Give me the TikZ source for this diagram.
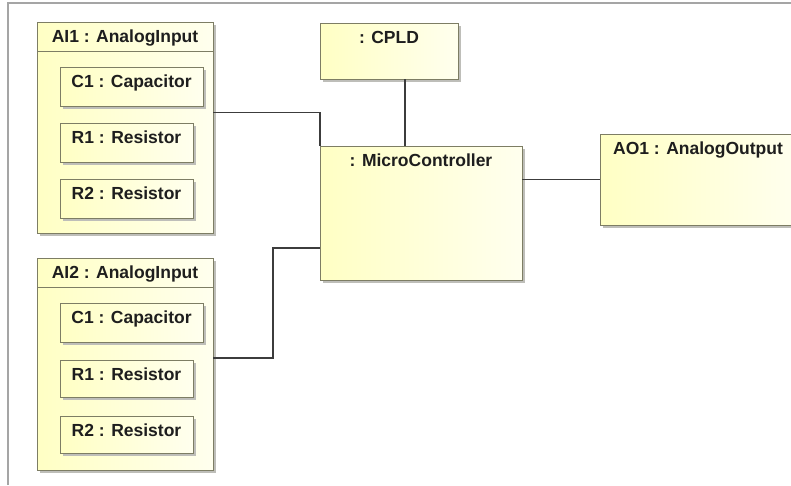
\documentclass[tikz,border=0pt]{standalone}
\usepackage{fontspec}
\setmainfont{Liberation Sans}
\usetikzlibrary{calc,shadows}
\definecolor{umlcolor0001}{RGB}{125,125,100}
\definecolor{umlcolor0002}{RGB}{255,255,196}
\definecolor{umlcolor0003}{RGB}{255,255,238}
\definecolor{umlcolor0004}{RGB}{165,165,165}
\definecolor{umlcolor0005}{RGB}{190,190,185}
\definecolor{umlcolor0006}{RGB}{30,30,30}
\definecolor{umlcolor0007}{RGB}{60,60,60}
\begin{document}
\begin{tikzpicture}[yscale=-1
,framestyle/.style={color=umlcolor0004,line width=1.5pt}
,boxstyle/.style={draw=umlcolor0001,line width=1pt,left color=umlcolor0002,right color=umlcolor0003,drop shadow={shadow xshift=3pt,shadow yshift=-3pt,fill=umlcolor0005,opacity=1},inner sep=0,outer sep=0,anchor=north west}
,textstyle/.style={anchor=north,inner xsep=0,inner ysep=8pt,font=\fontsize{17.5}{20}\selectfont\bfseries,text=umlcolor0006}
,sepstyle/.style={color=umlcolor0001,line width=1pt}
,linestyle/.style={color=umlcolor0007,line width=1.2pt}
]
\clip (0pt,0pt) rectangle (791pt,485pt);
\fill[white] (0pt,0pt) rectangle (791pt,485pt);
\draw[framestyle] (8pt,485pt) -- (8pt,3pt) -- (791pt,3pt);
% first analog input
\node[boxstyle,minimum width=176pt,minimum height=211pt] (ai1) at (37pt,22pt) {};
\node[textstyle] (ai1t) at (ai1.north) {AI1 : AnalogInput};
\path (ai1.north west) ++(0,29pt) coordinate (ai1s);
\draw[sepstyle] (ai1s) -- (ai1s -| ai1.east);
\node[boxstyle,minimum width=143pt,minimum height=39pt] (ai1c1) at (60pt,67pt) {};
\node[textstyle] (ai1c1t) at (ai1c1.north) {C1 : Capacitor};
\node[boxstyle,minimum width=133pt,minimum height=39pt] (ai1r1) at (60pt,123pt) {};
\node[textstyle] (ai1r1t) at (ai1r1.north) {R1 : Resistor};
\node[boxstyle,minimum width=133pt,minimum height=39pt] (ai1r2) at (60pt,179pt) {};
\node[textstyle] (ai1r2t) at (ai1r2.north) {R2 : Resistor};
% second analog input
\node[boxstyle,minimum width=176pt,minimum height=212pt] (ai2) at (37pt,258pt) {};
\node[textstyle] (ai2t) at (ai2.north) {AI2 : AnalogInput};
\path (ai2.north west) ++(0,29pt) coordinate (ai2s);
\draw[sepstyle] (ai2s) -- (ai2s -| ai2.east);
\node[boxstyle,minimum width=143pt,minimum height=39pt] (ai2c1) at (60pt,303pt) {};
\node[textstyle] (ai2c1t) at (ai2c1.north) {C1 : Capacitor};
\node[boxstyle,minimum width=133pt,minimum height=37pt] (ai2r1) at (60pt,360pt) {};
\node[textstyle] (ai2r1t) at (ai2r1.north) {R1 : Resistor};
\node[boxstyle,minimum width=133pt,minimum height=37pt] (ai2r2) at (60pt,416pt) {};
\node[textstyle] (ai2r2t) at (ai2r2.north) {R2 : Resistor};
% controller side
\node[boxstyle,minimum width=138pt,minimum height=56pt] (cpld) at (320pt,23pt) {};
\node[textstyle] (cpldt) at (cpld.north) {: CPLD};
\node[boxstyle,minimum width=202pt,minimum height=134pt] (mc) at (320pt,146pt) {};
\node[textstyle] (mct) at (mc.north) {: MicroController};
\node[boxstyle,minimum width=196pt,minimum height=91pt] (ao1) at (600pt,134pt) {};
\node[textstyle] (ao1t) at (ao1.north) {AO1 : AnalogOutput};
% connectors
\draw[linestyle] ($(cpld.south west)!0.616!(cpld.south east)$) coordinate (c1) -- (c1 |- mc.north);
\draw[linestyle] ($(ai1.north east)!0.427!(ai1.south east)$) -| (mc.north west);
\draw[linestyle] ($(ai2.north east)!0.472!(ai2.south east)$) -- ++(60pt,0) |- ($(mc.north west)!0.761!(mc.south west)$);
\draw[linestyle] (ao1.west -| mc.east) -- (ao1.west);
\end{tikzpicture}
\end{document}
